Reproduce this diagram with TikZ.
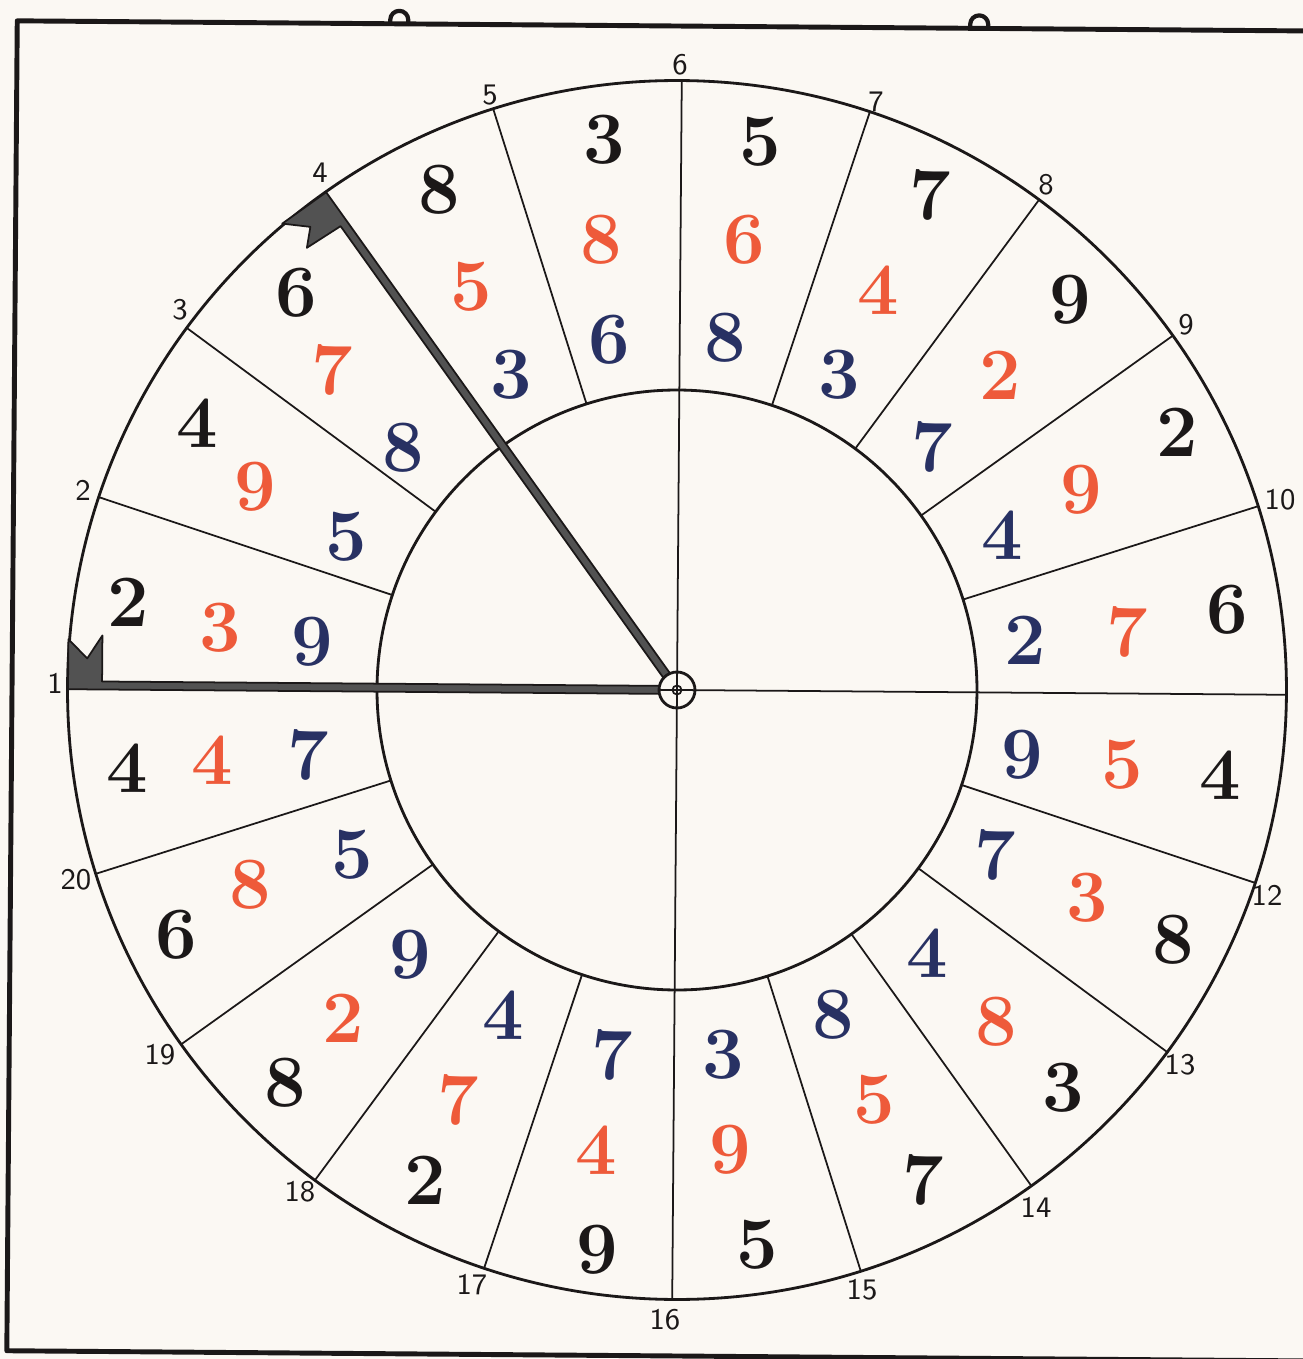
\documentclass[tikz,border=0pt]{standalone}
\usepackage{tikz}
\definecolor{paper}{HTML}{FBF8F3}
\definecolor{inkblack}{HTML}{1B1818}
\definecolor{inkred}{HTML}{EE5A3A}
\definecolor{inkblue}{HTML}{283163}

\begin{document}
\begin{tikzpicture}[line cap=round,line join=round,x=1cm,y=1cm,
	blk/.style={text=inkblack,inner sep=0pt,font={\fontsize{21}{21}\selectfont\bfseries}},
	rd/.style={text=inkred,inner sep=0pt,font={\fontsize{21}{21}\selectfont\bfseries}},
	blu/.style={text=inkblue,inner sep=0pt,font={\fontsize{21}{21}\selectfont\bfseries}},
	tick/.style={text=inkblack,inner sep=0pt,font={\fontsize{8.5}{8.5}\selectfont\sffamily}},
	ring/.style={draw=inkblack,line width=0.8pt},
	spoke/.style={draw=inkblack,line width=0.5pt},
	hand/.style={draw=inkblack,fill=black!68,line width=0.5pt}]
	\fill[paper] (-6.77,-6.69) rectangle (6.26,6.90);
	\useasboundingbox (-6.77,-6.69) rectangle (6.26,6.90);
	
	% the plate, a little askew on the scan
	\begin{scope}[rotate=-0.45]
	\draw [line width=1.4pt,inkblack] (6.6,6.64) -- (-6.65,6.64) -- (-6.65,-6.66) -- (6.6,-6.66);
	\draw [line width=1.2pt,inkblack] (-2.92,6.64) -- (-2.92,6.68) arc (180:0:0.09) -- (-2.74,6.64);
	\draw [line width=1.2pt,inkblack] (2.88,6.64) -- (2.88,6.68) arc (180:0:0.09) -- (3.06,6.64);
	
	\draw [ring] (0,0) circle (6.095);
	\draw [ring] (0,0) circle (3.0);
	\draw [spoke] (180:6.095) -- (0:6.095);
	\draw [spoke] (90:6.095) -- (270:6.095);
	\draw [spoke] (162:3) -- (162:6.095);
	\draw [spoke] (144:3) -- (144:6.095);
	\draw [spoke] (126:3) -- (126:6.095);
	\draw [spoke] (108:3) -- (108:6.095);
	\draw [spoke] (72:3) -- (72:6.095);
	\draw [spoke] (54:3) -- (54:6.095);
	\draw [spoke] (36:3) -- (36:6.095);
	\draw [spoke] (18:3) -- (18:6.095);
	\draw [spoke] (-18:3) -- (-18:6.095);
	\draw [spoke] (-36:3) -- (-36:6.095);
	\draw [spoke] (-54:3) -- (-54:6.095);
	\draw [spoke] (-72:3) -- (-72:6.095);
	\draw [spoke] (-108:3) -- (-108:6.095);
	\draw [spoke] (-126:3) -- (-126:6.095);
	\draw [spoke] (-144:3) -- (-144:6.095);
	\draw [spoke] (-162:3) -- (-162:6.095);
	
	% the two hands
	\begin{scope}[rotate=180,yscale=-1]
	\draw [hand] (0.18,-0.04) -- (6.09,-0.04) -- (6.09,0.46) -- (5.90,0.27) -- (5.75,0.50) -- (5.75,0.04) -- (0.18,0.04) -- cycle;
	\end{scope}
	\begin{scope}[rotate=126]
	\draw [hand] (0.18,-0.04) -- (6.09,-0.04) -- (6.09,0.50) -- (5.90,0.29) -- (5.75,0.44) -- (5.73,0.04) -- (0.18,0.04) -- cycle;
	\end{scope}
	\draw [ring] (0,0) circle (0.18);
	\draw [spoke] (0,0) circle (0.045);
	\fill [inkblack] (0,0) circle (0.012);
	\end{scope}
	
	% sector figures: black, red, blue
	\node[blk] (blk1) at (-5.49,0.88) {2}; \node[rd] (red1) at (-4.57,0.62) {3}; \node[blu] (blu1) at (-3.65,0.48) {9};
	\node[blk] (blk2) at (-4.80,2.67) {4}; \node[rd] (red2) at (-4.22,2.03) {9}; \node[blu] (blu2) at (-3.31,1.53) {5};
	\node[blk] (blk3) at (-3.81,3.97) {6}; \node[rd] (red3) at (-3.45,3.20) {7}; \node[blu] (blu3) at (-2.74,2.42) {8};
	\node[blk] (blk4) at (-2.38,5.00) {8}; \node[rd] (red4) at (-2.06,4.03) {5}; \node[blu] (blu4) at (-1.66,3.15) {3};
	\node[blk] (blk5) at (-0.73,5.50) {3}; \node[rd] (red5) at (-0.76,4.50) {8}; \node[blu] (blu5) at (-0.68,3.50) {6};
	\node[blk] (blk6) at (0.83,5.48) {5}; \node[rd] (red6) at (0.67,4.50) {6}; \node[blu] (blu6) at (0.48,3.52) {8};
	\node[blk] (blk7) at (2.53,4.95) {7}; \node[rd] (red7) at (2.01,4.00) {4}; \node[blu] (blu7) at (1.62,3.15) {3};
	\node[blk] (blk8) at (3.93,3.90) {9}; \node[rd] (red8) at (3.23,3.15) {2}; \node[blu] (blu8) at (2.55,2.43) {7};
	\node[blk] (blk9) at (5.00,2.58) {2}; \node[rd] (red9) at (4.04,2.00) {9}; \node[blu] (blu9) at (3.25,1.55) {4};
	\node[blk] (blk10) at (5.50,0.80) {6}; \node[rd] (red10) at (4.50,0.58) {7}; \node[blu] (blu10) at (3.48,0.50) {2};
	\node[blk] (blk11) at (5.43,-0.85) {4}; \node[rd] (red11) at (4.45,-0.75) {5}; \node[blu] (blu11) at (3.45,-0.65) {9};
	\node[blk] (blk12) at (4.96,-2.50) {8}; \node[rd] (red12) at (4.10,-2.08) {3}; \node[blu] (blu12) at (3.18,-1.65) {7};
	\node[blk] (blk13) at (3.86,-3.98) {3}; \node[rd] (red13) at (3.19,-3.32) {8}; \node[blu] (blu13) at (2.50,-2.63) {4};
	\node[blk] (blk14) at (2.46,-4.90) {7}; \node[rd] (red14) at (1.97,-4.10) {5}; \node[blu] (blu14) at (1.56,-3.25) {8};
	\node[blk] (blk15) at (0.80,-5.55) {5}; \node[rd] (red15) at (0.53,-4.60) {9}; \node[blu] (blu15) at (0.46,-3.65) {3};
	\node[blk] (blk16) at (-0.80,-5.60) {9}; \node[rd] (red16) at (-0.81,-4.60) {4}; \node[blu] (blu16) at (-0.65,-3.65) {7};
	\node[blk] (blk17) at (-2.52,-4.90) {2}; \node[rd] (red17) at (-2.19,-4.10) {7}; \node[blu] (blu17) at (-1.74,-3.25) {4};
	\node[blk] (blk18) at (-3.92,-3.93) {8}; \node[rd] (red18) at (-3.34,-3.28) {2}; \node[blu] (blu18) at (-2.67,-2.65) {9};
	\node[blk] (blk19) at (-5.01,-2.45) {6}; \node[rd] (red19) at (-4.27,-1.95) {8}; \node[blu] (blu19) at (-3.25,-1.65) {5};
	\node[blk] (blk20) at (-5.50,-0.78) {4}; \node[rd] (red20) at (-4.65,-0.70) {4}; \node[blu] (blu20) at (-3.69,-0.65) {7};
	
	% numbers round the rim
	\node[tick] (n1) at (-6.22,0.07) {1};
	\node[tick] (n2) at (-5.94,2.00) {2};
	\node[tick] (n3) at (-4.97,3.80) {3};
	\node[tick] (n4) at (-3.57,5.17) {4};
	\node[tick] (n5) at (-1.87,5.95) {5};
	\node[tick] (n6) at (0.03,6.25) {6};
	\node[tick] (n7) at (1.99,5.88) {7};
	\node[tick] (n8) at (3.69,5.05) {8};
	\node[tick] (n9) at (5.09,3.65) {9};
	\node[tick] (n10) at (6.03,1.90) {10};
	\node[tick] (n12) at (5.90,-2.05) {12};
	\node[tick] (n13) at (5.03,-3.75) {13};
	\node[tick] (n14) at (3.59,-5.17) {14};
	\node[tick] (n15) at (1.85,-6.00) {15};
	\node[tick] (n16) at (-0.12,-6.30) {16};
	\node[tick] (n17) at (-2.05,-5.95) {17};
	\node[tick] (n18) at (-3.77,-5.02) {18};
	\node[tick] (n19) at (-5.17,-3.65) {19};
	\node[tick] (n20) at (-6.01,-1.90) {20};
\end{tikzpicture}
\end{document}
